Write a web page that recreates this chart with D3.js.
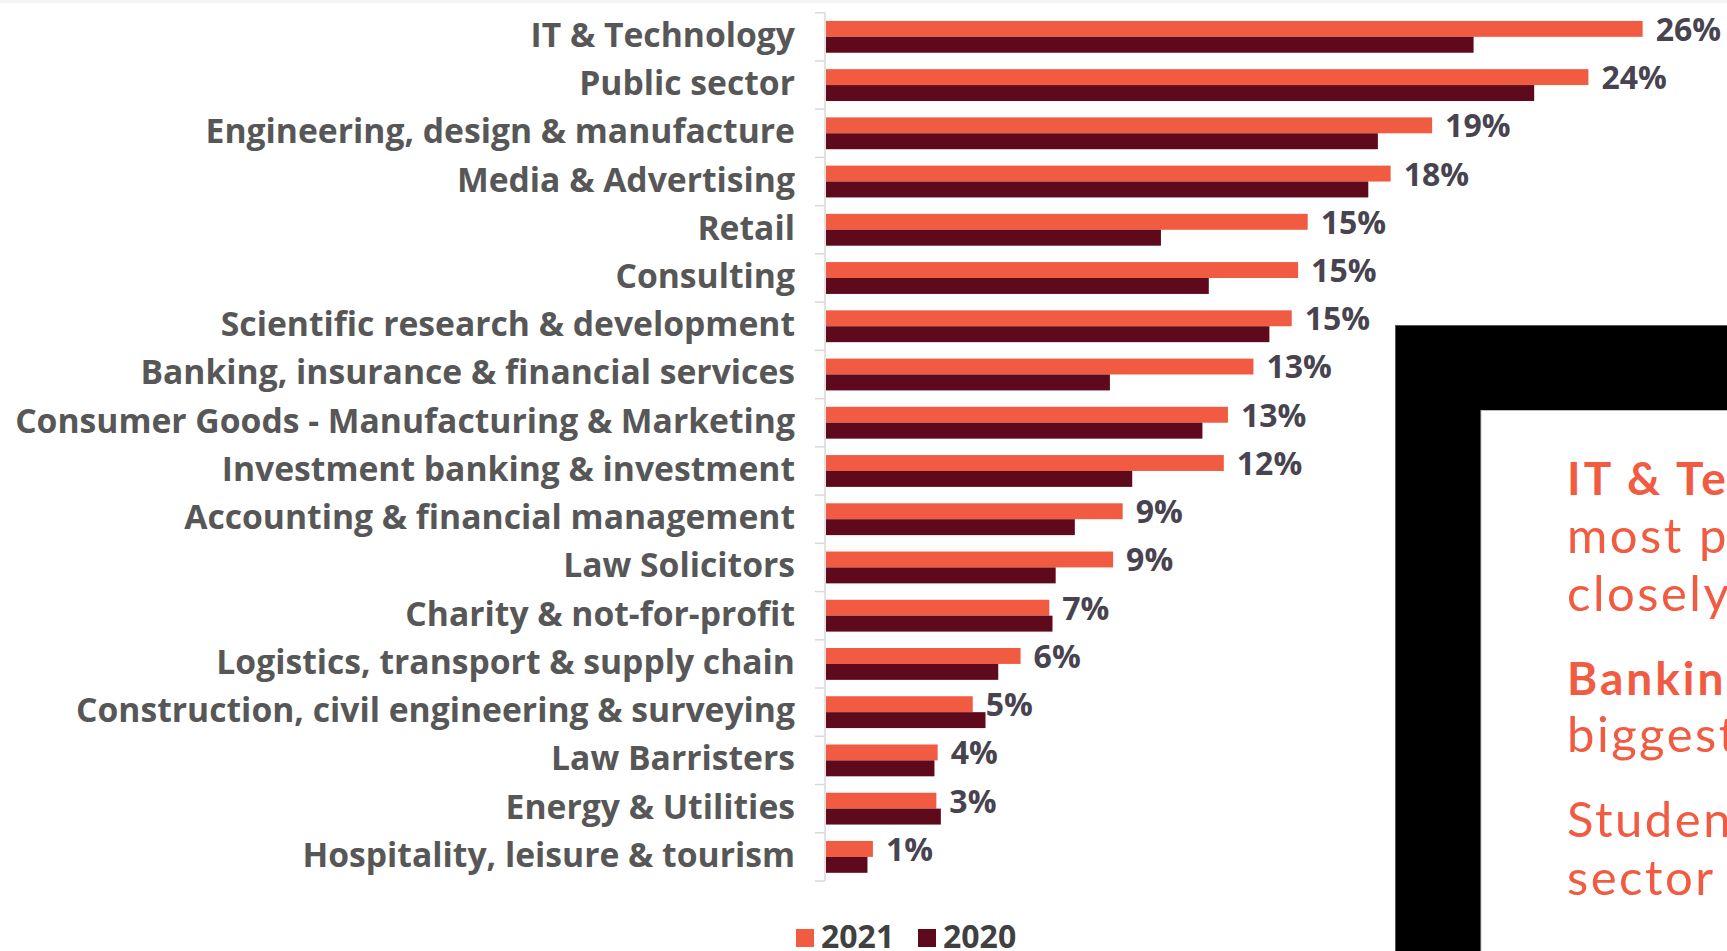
<!DOCTYPE html>
<html>
<head>
<meta charset="utf-8">
<script src="https://cdn.jsdelivr.net/npm/d3@7"></script>
<style>
  html, body { margin: 0; padding: 0; background: #ffffff; overflow: hidden; }
  svg { display: block; }
</style>
</head>
<body>
<svg id="chart" width="1727" height="951"></svg>
<script>
// Sectors students are interested in, ordered by 2021 share
const categories = [
  "IT & Technology",
  "Public sector",
  "Engineering, design & manufacture",
  "Media & Advertising",
  "Retail",
  "Consulting",
  "Scientific research & development",
  "Banking, insurance & financial services",
  "Consumer Goods - Manufacturing & Marketing",
  "Investment banking & investment",
  "Accounting & financial management",
  "Law Solicitors",
  "Charity & not-for-profit",
  "Logistics, transport & supply chain",
  "Construction, civil engineering & surveying",
  "Law Barristers",
  "Energy & Utilities",
  "Hospitality, leisure & tourism"
];

// Share of respondents (%)
const values2021 = [25.6, 23.9, 19.0, 17.7, 15.1, 14.8, 14.6, 13.4, 12.6, 12.47, 9.3, 9.0, 7.0, 6.1, 4.6, 3.5, 3.46, 1.47];
const values2020 = [20.3, 22.2, 17.3, 17.0, 10.5, 12.0, 13.9, 8.9, 11.8, 9.6, 7.8, 7.2, 7.1, 5.4, 5.0, 3.4, 3.6, 1.3];

const seriesNames = ["2021", "2020"];
const seriesColors = ["#f15b41", "#5f0a1c"];

// Side note text, one entry per paragraph: bold lead line, then plain lines
const noteParagraphs = [
  { bold: "IT & Technology", lines: ["most popular", "closely followed"] },
  { bold: "Banking", lines: ["biggest"] },
  { bold: null, lines: ["Students", "sector"] }
];

const W = 1727, H = 951;
const svg = d3.select("#chart");

// thin grey strip along the top edge
svg.append("rect").attr("x", 0).attr("y", 0).attr("width", W).attr("height", 3).attr("fill", "#f4f4f4");

const plotTop = 12.7, plotBottom = 881, axisX = 825;

const y = d3.scaleBand()
  .domain(categories)
  .range([plotTop, plotBottom])
  .paddingInner(0.34)
  .paddingOuter(0.17);

const ySub = d3.scaleBand()
  .domain(seriesNames)
  .range([0, y.bandwidth()]);

const x = d3.scaleLinear()
  .domain([0, 26])
  .range([826, 826 + 26 * 31.9]);

const rows = categories.map((c, i) => ({ cat: c, v: [values2021[i], values2020[i]] }));

// axis line with ticks between categories
const axis = svg.append("g").attr("class", "axis");
axis.append("line")
  .attr("x1", axisX).attr("x2", axisX)
  .attr("y1", plotTop).attr("y2", plotBottom)
  .attr("stroke", "#d9d9d9").attr("stroke-width", 1.5);
const boundaries = categories.map(c => y(c) - y.step() * y.paddingOuter())
  .concat([plotBottom]);
axis.selectAll("line.tick")
  .data(boundaries)
  .join("line")
  .attr("class", "tick")
  .attr("x1", axisX - 10).attr("x2", axisX)
  .attr("y1", d => d).attr("y2", d => d)
  .attr("stroke", "#d9d9d9").attr("stroke-width", 1.5);

// bars
const rowG = svg.append("g").selectAll("g.row")
  .data(rows)
  .join("g")
  .attr("class", "row")
  .attr("transform", d => `translate(0,${y(d.cat)})`);

rowG.selectAll("rect")
  .data(d => d.v.map((v, k) => ({ v, k })))
  .join("rect")
  .attr("x", x(0))
  .attr("y", d => ySub(seriesNames[d.k]))
  .attr("width", d => x(d.v) - x(0))
  .attr("height", ySub.bandwidth())
  .attr("fill", d => seriesColors[d.k]);

// value labels for 2021
rowG.append("text")
  .attr("x", d => x(d.v[0]) + 13)
  .attr("y", y.bandwidth() / 2 + 4)
  .attr("font-family", "'Open Sans', sans-serif")
  .attr("font-weight", 700)
  .attr("font-size", 32)
  .attr("fill", "#48444f")
  .text(d => Math.round(d.v[0]) + "%");

// category labels
const catLabels = rowG.append("text")
  .attr("x", 795)
  .attr("y", y.bandwidth() / 2 + 10)
  .attr("text-anchor", "end")
  .attr("font-family", "'Open Sans', sans-serif")
  .attr("font-weight", 700)
  .attr("font-size", 30)
  .attr("fill", "#575757")
  .text(d => d.cat);

// fit the longest label into the space left of the axis
const widest = d3.max(catLabels.nodes(), n => n.getComputedTextLength());
if (widest > 0) {
  const fs = Math.max(26, Math.min(34, 30 * 780 / widest));
  catLabels.attr("font-size", fs);
}

// legend
const legend = svg.append("g").attr("transform", "translate(796,929)");
const legendItems = legend.selectAll("g")
  .data(seriesNames)
  .join("g")
  .attr("transform", (d, i) => `translate(${i * 122},0)`);
legendItems.append("rect")
  .attr("width", 18).attr("height", 18)
  .attr("fill", (d, i) => seriesColors[i]);
legendItems.append("text")
  .attr("x", 25).attr("y", 19)
  .attr("font-family", "'Open Sans', sans-serif")
  .attr("font-weight", 700)
  .attr("font-size", 32)
  .attr("fill", "#404040")
  .text(d => d);

// note panel on the right
const panel = svg.append("g");
panel.append("rect")
  .attr("x", 1395.5).attr("y", 325.5)
  .attr("width", W - 1395 + 10).attr("height", H - 325 + 10)
  .attr("fill", "#000").attr("stroke", "#555").attr("stroke-width", 1);
panel.append("rect")
  .attr("x", 1481).attr("y", 410.5)
  .attr("width", W - 1481 + 10).attr("height", H - 410 + 10)
  .attr("fill", "#fff").attr("stroke", "#bbb").attr("stroke-width", 1);

svg.append("clipPath").attr("id", "noteClip")
  .append("rect").attr("x", 1481).attr("y", 410).attr("width", W - 1481).attr("height", H - 410);

const note = panel.append("g").attr("clip-path", "url(#noteClip)");
const baselines = [[495, 553, 611], [695, 752], [837, 895]];
noteParagraphs.forEach((p, i) => {
  const lines = p.bold ? [{ t: p.bold, b: true }].concat(p.lines.map(t => ({ t, b: false })))
                       : p.lines.map(t => ({ t, b: false }));
  lines.forEach((ln, j) => {
    note.append("text")
      .attr("x", 1567)
      .attr("y", baselines[i][j])
      .attr("font-family", "Lato, sans-serif")
      .attr("font-weight", ln.b ? 700 : 400)
      .attr("font-size", ln.b ? 46 : 49)
      .attr("letter-spacing", ln.b ? 3 : 2.5)
      .attr("fill", "#f15b41")
      .text(ln.t);
  });
});
</script>
</body>
</html>
